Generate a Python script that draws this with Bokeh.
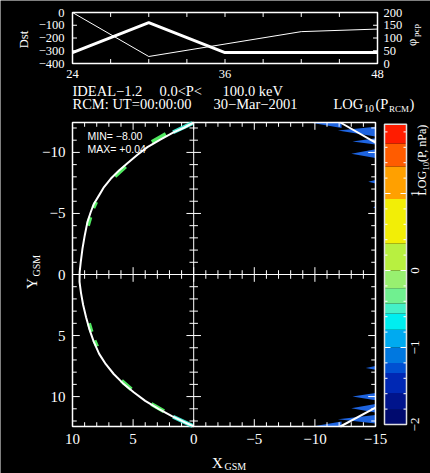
import numpy as np
from bokeh.plotting import figure
from bokeh.models import Range1d
from bokeh.embed import file_html
from bokeh.resources import INLINE
from bokeh.core.properties import value

# ---------------- data ----------------
# top panel (hours of 30-Mar-2001 run)
dst_hours = [24, 30, 42, 48]
dst_values = [0, -345, -150, -130]
phi_hours = [24, 30, 36, 42, 48]
phi_values = [43, 160, 43, 43, 43]
top_xticks = [24, 36, 48]
dst_ticks = [0, -100, -200, -300, -400]
phi_ticks = [200, 150, 100, 50, 0]

# main panel: RCM boundary (X_GSM, Y_GSM)
bnd_x = [0.0, 0.8, 1.63, 2.72, 3.82, 4.64, 5.47, 6.16, 6.85, 7.4, 7.81, 8.23, 8.5, 8.77, 8.99, 9.18,
         9.32, 9.41, 9.42, 9.3, 9.12, 8.88, 8.6, 8.25, 7.8, 7.25, 6.6, 5.85, 4.95, 4.0, 2.9, 1.8, 0.85, 0.0]
bnd_y = [-12.45, -12.02, -11.66, -11.07, -10.43, -9.81, -9.12, -8.52, -7.84, -7.16, -6.48, -5.8, -5.1,
         -4.29, -3.2, -2.1, -1.01, -0.19, 0.6, 1.5, 2.5, 3.5, 4.5, 5.5, 6.5, 7.35, 8.15, 8.9, 9.65, 10.35,
         11.0, 11.6, 12.05, 12.45]
tail_top_x = [-12.1, -15.0]
tail_top_y = [-12.45, -10.8]
tail_bot_x = [-12.1, -15.0]
tail_bot_y = [12.45, 10.9]

# pressure patches along the boundary (x0, y0, x1, y1)
green_x0 = [2.3, 5.62, 8.05, 8.53, 8.64, 8.19, 5.95, 3.5]
green_y0 = [-11.5, -8.85, -5.95, -4.7, 4.0, 5.4, 8.7, 10.6]
green_x1 = [3.45, 6.5, 8.28, 8.73, 8.43, 7.97, 5.15, 2.45]
green_y1 = [-10.85, -8.05, -5.45, -4.0, 4.7, 5.9, 9.4, 11.2]
cyan_x0 = [0.1, 1.7]
cyan_y0 = [-12.4, 11.65]
cyan_x1 = [1.7, 0.1]
cyan_y1 = [-11.65, 12.4]

# low-pressure wedges at the tail side
blue_xs = [[-9.7, -12.2, -12.2], [-11.9, -15, -15], [-13.1, -15, -15], [-13.0, -15, -15],
           [-14.4, -15, -15], [-14.8, -15, -15],
           [-14.2, -15, -15], [-13.1, -15, -15], [-13.0, -15, -15], [-11.9, -15, -15],
           [-9.9, -12.2, -12.2]]
blue_ys = [[-12.42, -12.42, -12.0], [-11.8, -12.1, -11.3], [-10.9, -11.15, -10.65], [-9.9, -10.25, -9.55],
           [-7.6, -7.75, -7.45], [-5.5, -5.6, -5.4],
           [7.65, 7.5, 7.8], [10.0, 9.7, 10.3], [10.95, 10.6, 11.3], [11.85, 11.5, 12.2],
           [12.42, 12.42, 12.05]]

gsm_xticks = [10, 5, 0, -5, -10, -15]
gsm_yticks = [-10, -5, 0, 5, 10]
p_min = -8.00
p_max = 0.04

# colour bar
cb_edges = [-2.0, -1.81, -1.59, -1.33, -1.2, -1.0, -0.77, -0.56, -0.43, -0.23, 0.0, 0.35, 0.93, 1.35, 1.65, 1.9]
cb_colors = ["#000a6e", "#00148c", "#0028b4", "#0050d2", "#0078e0", "#00aaf0", "#00eef0", "#44f0c8",
             "#70f090", "#98f070", "#b8f040", "#f2ee06", "#ffa000", "#ff5c00", "#ff1c00"]
cb_ticks = [1, 0, -1, -2]

SERIF = value("Liberation Serif")
SANS = value("Liberation Sans")


def fmt(v):
    return f"{v:g}".replace("-", "\u2212")


def lin_range(v1, p1, v2, p2, pa, pb):
    k = (v2 - v1) / (p2 - p1)
    return Range1d(start=v1 + (pa - p1) * k, end=v1 + (pb - p1) * k)


p = figure(width=430, height=473, x_range=Range1d(0, 430), y_range=Range1d(473, 0),
           output_backend="svg", toolbar_location=None, x_axis_type=None, y_axis_type=None,
           min_border=0, background_fill_color="black", border_fill_color="black",
           outline_line_color=None, title_location=None)
p.grid.visible = False

p.extra_x_ranges = {"hr": lin_range(24, 72, 48, 377, 0, 430),
                    "gx": lin_range(10, 72, -15, 375, 0, 430)}
p.extra_y_ranges = {"dst": lin_range(0, 12, -400, 63, 473, 0),
                    "phi": lin_range(0, 63, 200, 12, 473, 0),
                    "gy": lin_range(-12.45, 122, 12.45, 426, 473, 0),
                    "cb": lin_range(0, 270, 1, 193, 473, 0)}


def txt(x, y, s, size, align="center", angle=0.0, font=SERIF, xr="default", yr="default"):
    p.text(x=x, y=y, text=s, text_font=font, text_font_size=size, text_color="white",
           text_align=align, text_baseline="middle", angle=angle,
           x_range_name=xr, y_range_name=yr)


# ---------------- top panel ----------------
p.quad(left=[24], right=[48], top=[0], bottom=[-400], fill_color=None, line_color="white",
       line_width=1.5, x_range_name="hr", y_range_name="dst")
hx = list(range(27, 48, 3))
p.segment(x0=hx, y0=[-400] * len(hx), x1=hx, y1=[-365] * len(hx), line_color="white",
          line_width=1, x_range_name="hr", y_range_name="dst")
p.segment(x0=hx, y0=[0] * len(hx), x1=hx, y1=[-35] * len(hx), line_color="white",
          line_width=1, x_range_name="hr", y_range_name="dst")
p.segment(x0=[24] * 3, y0=[-100, -200, -300], x1=[24.35] * 3, y1=[-100, -200, -300],
          line_color="white", x_range_name="hr", y_range_name="dst")
p.segment(x0=[48] * 3, y0=[50, 100, 150], x1=[47.65] * 3, y1=[50, 100, 150],
          line_color="white", x_range_name="hr", y_range_name="phi")
p.line(dst_hours, dst_values, line_color="white", line_width=1, x_range_name="hr", y_range_name="dst")
p.line(phi_hours, phi_values, line_color="white", line_width=3, x_range_name="hr", y_range_name="phi")

txt([64] * len(dst_ticks), dst_ticks, [fmt(v) for v in dst_ticks], "12.5px", align="right", yr="dst")
txt([383] * len(phi_ticks), phi_ticks, [fmt(v) for v in phi_ticks], "12.5px", align="left", yr="phi")
txt(top_xticks, [73] * 3, [fmt(v) for v in top_xticks], "12.5px", xr="hr")
txt([23], [39], ["Dst"], "12.5px", angle=np.pi / 2)
txt([411], [42], ["\u03c6"], "12.5px", angle=np.pi / 2)
txt([415], [30], ["pcp"], "9px", angle=np.pi / 2)

# header lines
txt([72], [90], ["IDEAL\u22121.2"], "14.5px", align="left")
txt([159], [90], ["0.0<P<"], "14.5px", align="left")
txt([222], [90], ["100.0 keV"], "14.5px", align="left")
txt([72], [103.5], ["RCM: UT=00:00:00"], "14.5px", align="left")
txt([213], [103.5], ["30\u2212Mar\u22122001"], "14.5px", align="left")
txt([333], [103.5], ["LOG"], "14.5px", align="left")
txt([363.5], [108], ["10"], "10px", align="left")
txt([375], [103.5], ["(P"], "14.5px", align="left")
txt([388.5], [108], ["RCM"], "9px", align="left")
txt([409], [103.5], [")"], "14.5px", align="left")

# ---------------- main panel ----------------
p.patches(blue_xs, blue_ys, fill_color="#1e64e0", line_color=None, x_range_name="gx", y_range_name="gy")

p.quad(left=[10], right=[-15], top=[-12.45], bottom=[12.45], fill_color=None, line_color="white",
       line_width=1.5, x_range_name="gx", y_range_name="gy")

ux = [v for v in range(-14, 10)]
lx = [0.6 if v % 5 == 0 else 0.35 for v in ux]
uy = [v for v in range(-12, 13)]
ly = [0.6 if v % 5 == 0 else 0.35 for v in uy]
seg = dict(line_color="white", line_width=1, x_range_name="gx", y_range_name="gy")
p.segment(x0=ux, y0=[12.45] * len(ux), x1=ux, y1=[12.45 - l for l in lx], **seg)
p.segment(x0=ux, y0=[-12.45] * len(ux), x1=ux, y1=[-12.45 + l for l in lx], **seg)
p.segment(x0=ux, y0=[-l for l in lx], x1=ux, y1=lx, **seg)
p.segment(x0=[10] * len(uy), y0=uy, x1=[10 - l for l in ly], y1=uy, **seg)
p.segment(x0=[-15] * len(uy), y0=uy, x1=[-15 + l for l in ly], y1=uy, **seg)
p.segment(x0=[-l for l in ly], y0=uy, x1=ly, y1=uy, **seg)
p.segment(x0=[0, 10], y0=[-12.45, 0], x1=[0, -15], y1=[12.45, 0], **seg)

p.segment(x0=green_x0, y0=green_y0, x1=green_x1, y1=green_y1, line_color="#50e860", line_width=4,
          x_range_name="gx", y_range_name="gy")
p.segment(x0=cyan_x0, y0=cyan_y0, x1=cyan_x1, y1=cyan_y1, line_color="#40e8d0", line_width=4,
          x_range_name="gx", y_range_name="gy")
p.line(bnd_x, bnd_y, line_color="white", line_width=2, line_join="round",
       x_range_name="gx", y_range_name="gy")
p.line(tail_top_x, tail_top_y, line_color="white", line_width=2, x_range_name="gx", y_range_name="gy")
p.line(tail_bot_x, tail_bot_y, line_color="white", line_width=2, x_range_name="gx", y_range_name="gy")

txt([65] * len(gsm_yticks), gsm_yticks, [fmt(v) for v in gsm_yticks], "15px", align="right", yr="gy")
txt(gsm_xticks, [438] * len(gsm_xticks), [fmt(v) for v in gsm_xticks], "15px", xr="gx")
txt([217], [462], ["X"], "15px")
txt([224], [466], ["GSM"], "10px", align="left")
txt([31], [283], ["Y"], "15px", angle=np.pi / 2)
txt([36], [276], ["GSM"], "10px", align="left", angle=np.pi / 2)

txt([87], [135], ["MIN= " + f"{p_min:.2f}".replace("-", "\u2212")], "10.5px", align="left", font=SANS)
txt([87], [148.5], ["MAX= " + f"{p_max:+.2f}"], "10.5px", align="left", font=SANS)

# ---------------- colour bar ----------------
p.quad(left=[384] * len(cb_colors), right=[406] * len(cb_colors), bottom=cb_edges[:-1], top=cb_edges[1:],
       fill_color=cb_colors, line_color=None, y_range_name="cb")
cbt = [round(v, 1) for v in np.arange(-1.8, 1.81, 0.2)]
cbl = [6 if abs(v - round(v)) < 1e-6 else 3 for v in cbt]
p.segment(x0=[384] * len(cbt), y0=cbt, x1=[384 + l for l in cbl], y1=cbt, line_color="white",
          line_width=1, y_range_name="cb")
p.segment(x0=[406] * len(cbt), y0=cbt, x1=[406 - l for l in cbl], y1=cbt, line_color="white",
          line_width=1, y_range_name="cb")
p.quad(left=[384], right=[406], bottom=[cb_edges[0]], top=[cb_edges[-1]], fill_color=None,
       line_color="#e0e0e0", line_width=1.5, y_range_name="cb")
txt([414] * len(cb_ticks), cb_ticks, [fmt(v) for v in cb_ticks], "13px", angle=np.pi / 2, yr="cb")
txt([421], [195], ["LOG"], "12px", align="left", angle=np.pi / 2)
txt([425], [170], ["10"], "8.5px", align="left", angle=np.pi / 2)
txt([421], [161.5], ["(P, nPa)"], "12px", align="left", angle=np.pi / 2)

open("out.html", "w").write(file_html(p, INLINE))
